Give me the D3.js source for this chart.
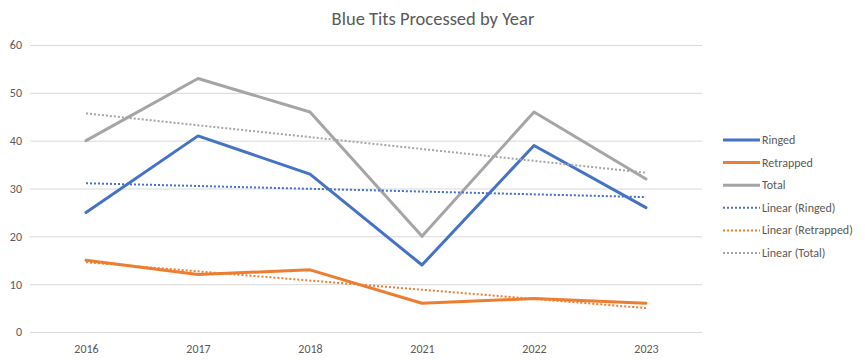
<!DOCTYPE html>
<html><head><meta charset="utf-8">
<script src="https://cdn.jsdelivr.net/npm/d3@7"></script>
<style>body{margin:0;background:#fff}svg{display:block}text{font-family:Calibri,Carlito,"Liberation Sans Narrow","Liberation Sans",sans-serif;fill:#595959}</style>
</head><body><svg id="c" width="865" height="360"></svg>
<script>
const years = ["2016","2017","2018","2021","2022","2023"];
const ringed = [25,41,33,14,39,26];
const retrapped = [15,12,13,6,7,6];
const total = [40,53,46,20,46,32];
// trendline endpoints (first & last category)
const trendRinged = [31.1,28.2];
const trendRetrapped = [14.6,5.0];
const trendTotal = [45.7,33.3];
const yTicks = [0,10,20,30,40,50,60];

const svg = d3.select("#c");
const x = d3.scalePoint().domain(years).range([30,702]).padding(0.5);
const y = d3.scaleLinear().domain([0,60]).range([332,45]);

svg.append("text").attr("x",433).attr("y",25).attr("text-anchor","middle")
  .style("font-size","18.5px").text("Blue Tits Processed by Year");

const yAx = svg.append("g").attr("transform","translate(30,0)")
  .call(d3.axisLeft(y).tickValues(yTicks).tickSize(-672).tickPadding(10));
yAx.select(".domain").remove();
yAx.selectAll("line").attr("stroke","#d9d9d9");
yAx.selectAll("text").style("font-size","12px").attr("x",-8);

const xAx = svg.append("g").attr("transform","translate(0,332)")
  .call(d3.axisBottom(x).tickSize(0).tickPadding(12));
xAx.select(".domain").remove();
xAx.selectAll("text").style("font-size","12px");

const line = d3.line().x((d,i)=>x(years[i])).y(d=>y(d));
const series = [
  {name:"Ringed",data:ringed,color:"#4472C4"},
  {name:"Retrapped",data:retrapped,color:"#ED7D31"},
  {name:"Total",data:total,color:"#A5A5A5"}
];
const trends = [
  {name:"Linear (Ringed)",data:trendRinged,color:"#4472C4"},
  {name:"Linear (Retrapped)",data:trendRetrapped,color:"#ED7D31"},
  {name:"Linear (Total)",data:trendTotal,color:"#A5A5A5"}
];
const tline = d3.line().x((d,i)=>x(years[i*(years.length-1)])).y(d=>y(d));

series.forEach(s=>{
  svg.append("path").attr("d",line(s.data)).attr("fill","none")
    .attr("stroke",s.color).attr("stroke-width",3).attr("stroke-linejoin","round").attr("stroke-linecap","round");
});
trends.forEach(s=>{
  svg.append("path").attr("d",tline(s.data)).attr("fill","none")
    .attr("stroke",s.color).attr("stroke-width",2).attr("stroke-dasharray","2,2");
});

const leg = svg.append("g");
[...series.map(s=>({...s,dash:false})),...trends.map(s=>({...s,dash:true}))].forEach((s,i)=>{
  const yy = 140 + i*22.6;
  leg.append("line").attr("x1",723).attr("x2",760).attr("y1",yy).attr("y2",yy)
    .attr("stroke",s.color).attr("stroke-width",s.dash?2:3)
    .attr("stroke-dasharray",s.dash?"2,2":null);
  leg.append("text").attr("x",762).attr("y",yy+4).style("font-size","12px").text(s.name);
});
</script></body></html>
